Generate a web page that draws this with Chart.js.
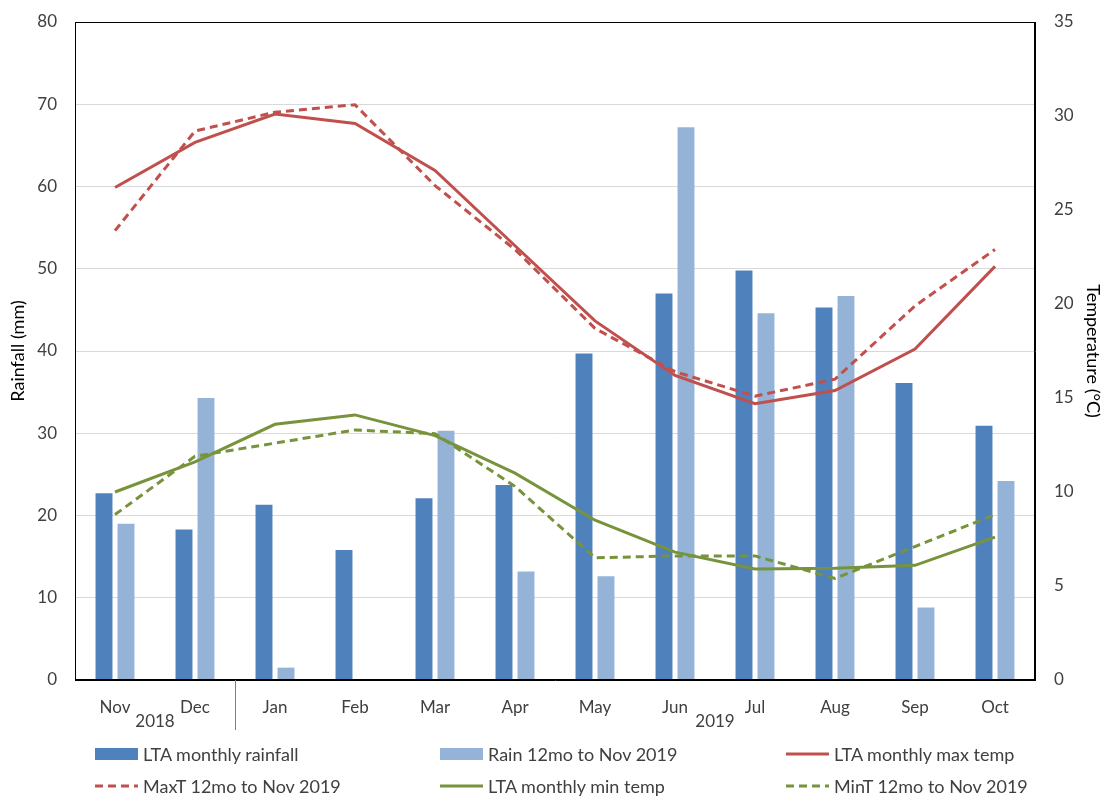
<!DOCTYPE html>
<html>
<head>
<meta charset="utf-8">
<script src="https://cdn.jsdelivr.net/npm/chart.js@4"></script>
<style>
  body { margin: 0; background: #fff; }
  #wrap { position: relative; width: 1106px; height: 796px; }
  #legend { position: absolute; left: 0; top: 0; width: 1106px; height: 796px; pointer-events: none;
            font-family: Lato, "Open Sans", sans-serif; font-size: 18px; color: #404040; }
  .item { position: absolute; display: flex; align-items: center; white-space: nowrap; }
  .item svg { margin-right: 5px; }
</style>
</head>
<body>
<div id="wrap">
  <canvas id="myChart" width="1106" height="796"></canvas>
  <div id="legend"></div>
</div>
<script>
const months = ["Nov", "Dec", "Jan", "Feb", "Mar", "Apr", "May", "Jun", "Jul", "Aug", "Sep", "Oct"];
const years = ["2018", "2019"];
const yearLabelAt = [0.5, 7.5];   // category index where each year label sits
const yearBreakAt = [1.5];        // divider between the year groups

const ltaRain = [22.7, 18.3, 21.3, 15.8, 22.1, 23.7, 39.7, 47.0, 49.8, 45.3, 36.1, 30.9];
const rain12mo = [19.0, 34.3, 1.5, 0, 30.3, 13.2, 12.6, 67.2, 44.6, 46.7, 8.8, 24.2];
const ltaMaxT = [26.2, 28.6, 30.1, 29.6, 27.1, 23.1, 19.1, 16.2, 14.7, 15.4, 17.6, 22.0];
const maxT12mo = [23.9, 29.2, 30.2, 30.6, 26.3, 22.9, 18.7, 16.4, 15.1, 16.0, 19.9, 22.9];
const ltaMinT = [10.0, 11.6, 13.6, 14.1, 13.0, 11.0, 8.5, 6.8, 5.9, 5.95, 6.1, 7.6];
const minT12mo = [8.8, 11.9, 12.6, 13.3, 13.1, 10.3, 6.5, 6.6, 6.6, 5.4, 7.1, 8.8];

const rainTicks = { min: 0, max: 80, step: 10 };
const tempTicks = { min: 0, max: 35, step: 5 };

const darkBlue = "#4F81BD";
const lightBlue = "#95B3D7";
const red = "#C0504D";
const green = "#77933C";
const textColor = "#404040";
const font = "Lato, 'Open Sans', sans-serif";

Chart.defaults.font.family = font;
Chart.defaults.color = textColor;

const frameAndYears = {
  id: "frameAndYears",
  afterDraw(chart) {
    const { ctx, chartArea } = chart;
    const x = chart.scales.x;
    const at = (v) => {
      const i = Math.floor(v);
      const a = x.getPixelForValue(i);
      const b = x.getPixelForValue(i + 1);
      return a + (b - a) * (v - i);
    };
    ctx.save();
    ctx.strokeStyle = "#000";
    ctx.lineWidth = 1;
    ctx.strokeRect(chartArea.left + 0.5, chartArea.top + 0.5, chartArea.width - 1, chartArea.height - 1);
    ctx.strokeStyle = "#7f7f7f";
    yearBreakAt.forEach((v) => {
      const px = Math.round(at(v)) + 0.5;
      ctx.beginPath();
      ctx.moveTo(px, chartArea.bottom);
      ctx.lineTo(px, chartArea.bottom + 50);
      ctx.stroke();
    });
    ctx.fillStyle = textColor;
    ctx.font = "17px " + font;
    ctx.textAlign = "center";
    ctx.textBaseline = "middle";
    years.forEach((y, k) => ctx.fillText(y, at(yearLabelAt[k]), chartArea.bottom + 42));
    ctx.restore();
  },
};

const ctx = document.getElementById("myChart");
const myChart = new Chart(ctx, {
  type: "bar",
  data: {
    labels: months,
    datasets: [
      { type: "bar", label: "LTA monthly rainfall", data: ltaRain, backgroundColor: darkBlue, yAxisID: "y", order: 2 },
      { type: "bar", label: "Rain 12mo to Nov 2019", data: rain12mo, backgroundColor: lightBlue, yAxisID: "y", order: 2 },
      { type: "line", label: "LTA monthly max temp", data: ltaMaxT, borderColor: red, borderWidth: 3, pointRadius: 0, yAxisID: "y2", order: 1 },
      { type: "line", label: "MaxT 12mo to Nov 2019", data: maxT12mo, borderColor: red, borderWidth: 3, borderDash: [8, 5], pointRadius: 0, yAxisID: "y2", order: 1 },
      { type: "line", label: "LTA monthly min temp", data: ltaMinT, borderColor: green, borderWidth: 3, pointRadius: 0, yAxisID: "y2", order: 1 },
      { type: "line", label: "MinT 12mo to Nov 2019", data: minT12mo, borderColor: green, borderWidth: 3, borderDash: [8, 5], pointRadius: 0, yAxisID: "y2", order: 1 },
    ],
  },
  options: {
    responsive: false,
    animation: false,
    layout: { padding: { top: 22, left: 0, right: 0, bottom: 0 } },
    datasets: { bar: { categoryPercentage: 0.55, barPercentage: 0.77 } },
    plugins: { legend: { display: false }, tooltip: { enabled: false } },
    scales: {
      x: {
        grid: { display: false, drawTicks: false },
        border: { color: "#000" },
        ticks: { padding: 17, font: { size: 17 }, color: textColor },
        afterFit: (s) => { s.height = 116; s.paddingLeft = 0; s.paddingRight = 0; },
      },
      y: {
        position: "left",
        min: rainTicks.min,
        max: rainTicks.max,
        ticks: { stepSize: rainTicks.step, padding: 18, font: { size: 17 }, color: textColor },
        grid: { color: "#D9D9D9", drawTicks: false },
        border: { color: "#000" },
        title: { display: true, text: "Rainfall (mm)", font: { size: 18 }, color: "#000", padding: { top: 7, bottom: 0 } },
        afterFit: (s) => { s.width = 75; s.paddingTop = 0; s.paddingBottom = 0; },
      },
      y2: {
        position: "right",
        min: tempTicks.min,
        max: tempTicks.max,
        ticks: { stepSize: tempTicks.step, padding: 19, font: { size: 17 }, color: textColor },
        grid: { drawOnChartArea: false, drawTicks: false },
        border: { color: "#000" },
        title: { display: true, text: "Temperature (°C)", font: { size: 18 }, color: "#000", padding: { top: 2, bottom: 0 } },
        afterFit: (s) => { s.width = 71; s.paddingTop = 0; s.paddingBottom = 0; },
      },
    },
  },
  plugins: [frameAndYears],
});

// legend in three columns, two rows, like the original
const legendCols = [95, 440, 786];
const legendRows = [754, 786];
const legend = document.getElementById("legend");
myChart.data.datasets.forEach((ds, i) => {
  const item = document.createElement("div");
  item.className = "item";
  item.style.left = legendCols[i % 3] + "px";
  item.style.top = legendRows[Math.floor(i / 3)] - 11 + "px";
  item.style.height = "22px";
  let swatch;
  if (ds.type === "bar") {
    swatch = `<svg width="43" height="12"><rect x="0" y="0" width="43" height="12" fill="${ds.backgroundColor}"/></svg>`;
  } else {
    const dash = ds.borderDash ? `stroke-dasharray="${ds.borderDash.join(" ")}"` : "";
    swatch = `<svg width="43" height="12"><line x1="0" y1="6" x2="43" y2="6" stroke="${ds.borderColor}" stroke-width="3" ${dash}/></svg>`;
  }
  item.innerHTML = swatch + "<span>" + ds.label + "</span>";
  legend.appendChild(item);
});
</script>
</body>
</html>
